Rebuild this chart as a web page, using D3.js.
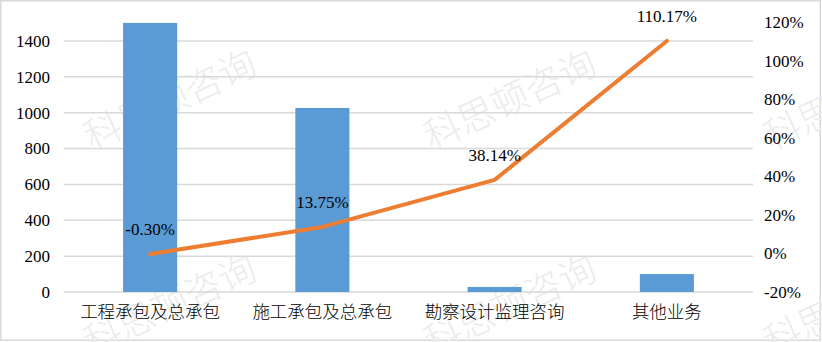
<!DOCTYPE html>
<meta charset="utf-8">
<script src="https://d3js.org/d3.v7.min.js"></script>
<style>
  body { margin: 0; background: #fff; }
</style>
<div id="chart"></div>
<script>

    // data
    var categories = ["工程承包及总承包", "施工承包及总承包", "勘察设计监理咨询", "其他业务"];
    var revenue = [1500, 1026, 28, 100];
    var growth = [-0.0030, 0.1375, 0.3814, 1.1017];
    var growthLabels = ["-0.30%", "13.75%", "38.14%", "110.17%"];
    var leftTicks = [0, 200, 400, 600, 800, 1000, 1200, 1400];
    var rightTicks = [-0.2, 0, 0.2, 0.4, 0.6, 0.8, 1.0, 1.2];
    var watermark = "科思顿咨询";

    var serif = "'Liberation Serif', 'Times New Roman', 'DejaVu Serif', serif";
    var catFont = "'Liberation Serif', 'Noto Sans CJK SC', serif";

    var W = 822, H = 342;
    var margin = { top: 22, right: 69, bottom: 50, left: 64 },
        width = W - margin.left - margin.right,
        height = H - margin.top - margin.bottom;

    var svg = d3.select("#chart")
        .append("svg")
        .attr("width", W)
        .attr("height", H);

    // outer border
    svg.append("rect")
        .attr("x", 0.75).attr("y", 0.75)
        .attr("width", W - 2.5).attr("height", H - 2.5)
        .attr("fill", "#fff")
        .attr("stroke", "#d9d9d9")
        .attr("stroke-width", 1.5);

    // watermarks in the background
    var marks = [[170, 100], [510, 100], [850, 100], [170, 305], [510, 305], [850, 305]];
    svg.append("g").selectAll("text")
        .data(marks)
        .enter()
        .append("text")
        .attr("transform", function (d) { return "translate(" + d[0] + "," + d[1] + ") rotate(-25)"; })
        .attr("text-anchor", "middle")
        .attr("dy", "0.35em")
        .style("font-family", "'Noto Sans CJK SC'")
        .style("font-weight", 300)
        .style("font-size", "37px")
        .attr("fill", "#ececec")
        .text(watermark);

    var g = svg.append("g")
        .attr("transform", "translate(" + margin.left + "," + margin.top + ")");

    var x = d3.scaleBand()
        .domain(categories)
        .range([0, width])
        .padding(0);

    // left axis: 0..1600 over a plot that starts a bit above the top
    var yL = d3.scaleLinear()
        .domain([0, 1600])
        .range([height, -17]);

    var yR = d3.scaleLinear()
        .domain([-0.2, 1.2])
        .range([height, 0]);

    // gridlines
    g.append("g").selectAll("line")
        .data(leftTicks)
        .enter()
        .append("line")
        .attr("x1", 0).attr("x2", width)
        .attr("y1", function (d) { return yL(d); })
        .attr("y2", function (d) { return yL(d); })
        .attr("stroke", "#d9d9d9")
        .attr("stroke-width", 1.5);

    // left axis
    var axL = g.append("g")
        .call(d3.axisLeft(yL).tickValues(leftTicks).tickSize(0).tickPadding(14).tickFormat(d3.format("d")));
    axL.select(".domain").remove();
    axL.attr("font-family", null).attr("font-size", null);
    axL.selectAll("text")
        .style("font-family", serif)
        .style("font-size", "17px")
        .attr("fill", "#000");

    // right axis
    var axR = g.append("g")
        .attr("transform", "translate(" + width + ",0)")
        .call(d3.axisRight(yR).tickValues(rightTicks).tickSize(0).tickPadding(11)
            .tickFormat(function (d) { return Math.round(d * 100) + "%"; }));
    axR.select(".domain").remove();
    axR.attr("font-family", null).attr("font-size", null);
    axR.selectAll("text")
        .style("font-family", serif)
        .style("font-size", "17px")
        .attr("fill", "#000");

    // bottom axis
    var axB = g.append("g")
        .attr("transform", "translate(0," + height + ")")
        .call(d3.axisBottom(x).tickSize(0).tickPadding(14));
    axB.select(".domain").remove();
    axB.attr("font-family", null).attr("font-size", null);
    axB.selectAll("text")
        .style("font-family", catFont)
        .style("font-weight", 300)
        .style("font-size", "17.5px")
        .attr("fill", "#000");

    // bars
    var barW = x.bandwidth() * 0.314;
    g.selectAll(".bar")
        .data(revenue)
        .enter()
        .append("rect")
        .attr("class", "bar")
        .attr("x", function (d, i) { return x(categories[i]) + (x.bandwidth() - barW) / 2; })
        .attr("y", function (d) { return yL(d); })
        .attr("width", barW)
        .attr("height", function (d) { return height - yL(d); })
        .attr("fill", "#5b9bd5");

    // growth line
    var line = d3.line()
        .x(function (d, i) { return x(categories[i]) + x.bandwidth() / 2; })
        .y(function (d) { return yR(d); });

    g.append("path")
        .datum(growth)
        .attr("fill", "none")
        .attr("stroke", "#ed7d31")
        .attr("stroke-width", 4)
        .attr("stroke-linecap", "round")
        .attr("stroke-linejoin", "round")
        .attr("d", line);

    g.selectAll(".lbl")
        .data(growth)
        .enter()
        .append("text")
        .attr("class", "lbl")
        .attr("x", function (d, i) { return x(categories[i]) + x.bandwidth() / 2; })
        .attr("y", function (d) { return yR(d) - 19; })
        .attr("text-anchor", "middle")
        .style("font-family", serif)
        .style("font-size", "17px")
        .attr("fill", "#000")
        .text(function (d, i) { return growthLabels[i]; });

</script>
